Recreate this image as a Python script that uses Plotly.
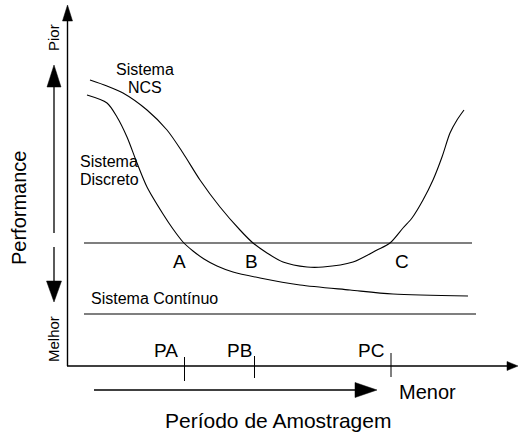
import plotly.graph_objects as go

# ---- data (diagram coordinates: x to the right, y downward, 520 x 434 canvas) ----
ncs_x = [90, 107, 123, 147, 167, 183, 200, 220, 240, 253, 267, 283, 307, 323, 353, 377, 390, 403, 412, 423, 433, 442, 450, 457, 464]
ncs_y = [80, 86, 93, 110, 130, 153, 180, 207, 230, 243, 253, 262, 267, 267, 262, 250, 243, 228, 218, 200, 180, 157, 133, 120, 110]

disc_x = [87, 107, 117, 127, 137, 147, 163, 173, 183, 193, 204, 217, 233, 260, 300, 350, 393, 468]
disc_y = [95, 103, 117, 137, 163, 187, 214, 229, 242, 251, 259, 266, 272, 278, 285, 290, 294, 296]

ref_line_x = [84, 472]          # horizontal line through A, B, C
ref_line_y = [243, 243]
cont_line_x = [84, 476]         # Sistema Contínuo
cont_line_y = [314, 314]

axis_v_x = [67.5, 67.5]
axis_v_y = [366, 18]
axis_h_x = [67, 508]
axis_h_y = [366, 366]

perf_arrow_top_x = [54, 54]
perf_arrow_top_y = [87, 233]
perf_arrow_bot_x = [54, 54]
perf_arrow_bot_y = [247, 282]

periodo_arrow_x = [94, 357]
periodo_arrow_y = [390, 390]

tick_labels = ["PA", "PB", "PC"]
tick_x = [184.5, 254.5, 391]
tick_y0 = [357, 356, 353]
tick_y1 = [381, 378, 377]
tick_label_x = [166, 239, 371]
tick_label_y = [350, 350, 350]

point_labels = ["A", "B", "C"]
point_label_x = [179, 251, 402]
point_label_y = [261, 261, 261]

# arrow heads: tip x, tip y, direction, length, half width
head_tip_x = [67.5, 54, 54, 518, 377]
head_tip_y = [5, 65, 302, 366, 390]
head_dir = ["up", "up", "down", "right", "right"]
head_len = [16, 22, 21, 11, 22]
head_half = [5, 7, 7.5, 4.5, 7.5]

FONT = "Arial, Liberation Sans, sans-serif"

fig = go.Figure()

def add_line(xs, ys, width=1.0, color="black", shape="linear", smoothing=None):
    fig.add_trace(go.Scatter(x=xs, y=ys, mode="lines", hoverinfo="skip",
                             line=dict(color=color, width=width, shape=shape,
                                       smoothing=smoothing)))

add_line(ncs_x, ncs_y, 1.1, shape="spline", smoothing=0.8)
add_line(disc_x, disc_y, 1.1, shape="spline", smoothing=0.8)
add_line(ref_line_x, ref_line_y, 1.1)
add_line(cont_line_x, cont_line_y, 1.1)
add_line(axis_v_x, axis_v_y, 1.4)
add_line(axis_h_x, axis_h_y, 1.4)
add_line(perf_arrow_top_x, perf_arrow_top_y, 1.3)
add_line(perf_arrow_bot_x, perf_arrow_bot_y, 1.3)
add_line(periodo_arrow_x, periodo_arrow_y, 1.4)
for tx, a, b in zip(tick_x, tick_y0, tick_y1):
    add_line([tx, tx], [a, b], 1.0)

for tx, ty, d, L, h in zip(head_tip_x, head_tip_y, head_dir, head_len, head_half):
    if d == "up":
        xs = [tx, tx - h, tx + h, tx]; ys = [ty, ty + L, ty + L, ty]
    elif d == "down":
        xs = [tx, tx - h, tx + h, tx]; ys = [ty, ty - L, ty - L, ty]
    else:
        xs = [tx, tx - L, tx - L, tx]; ys = [ty, ty - h, ty + h, ty]
    fig.add_trace(go.Scatter(x=xs, y=ys, mode="lines", fill="toself",
                             fillcolor="black", hoverinfo="skip",
                             line=dict(color="black", width=0.5)))

def txt(x, y, s, size, xanchor="center", angle=0):
    fig.add_annotation(x=x, y=y, text=s, showarrow=False, xanchor=xanchor,
                       yanchor="middle", textangle=angle,
                       font=dict(family=FONT, size=size, color="black"))

txt(53, 38, "Pior", 15, angle=-90)
txt(53, 339, "Melhor", 15, angle=-90)
txt(19, 208, "Performance", 20, angle=-90)
txt(145, 69, "Sistema", 16)
txt(145, 87, "NCS", 16)
txt(78, 161, "Sistema", 16, xanchor="left")
txt(78, 179, "Discreto", 16, xanchor="left")
txt(89, 298, "Sistema Contínuo", 16, xanchor="left")
for s, x, y in zip(point_labels, point_label_x, point_label_y):
    txt(x, y, s, 19)
for s, x, y in zip(tick_labels, tick_label_x, tick_label_y):
    txt(x, y, s, 19)
txt(397, 392, "Menor", 20, xanchor="left")
txt(278, 420, "Período de Amostragem", 21)

fig.update_layout(
    width=520, height=434,
    margin=dict(l=0, r=0, t=0, b=0),
    paper_bgcolor="white", plot_bgcolor="white",
    showlegend=False,
    xaxis=dict(range=[0, 520], visible=False, fixedrange=True),
    yaxis=dict(range=[434, 0], visible=False, fixedrange=True),
)

fig.write_html("out.html", config={"displayModeBar": False, "staticPlot": True})

# remove the default page margin so the figure sits at the window's top-left corner
with open("out.html", encoding="utf-8") as f:
    html = f.read()
html = html.replace("<head>", "<head><style>html,body{margin:0;padding:0;overflow:hidden;}</style>", 1)
with open("out.html", "w", encoding="utf-8") as f:
    f.write(html)
